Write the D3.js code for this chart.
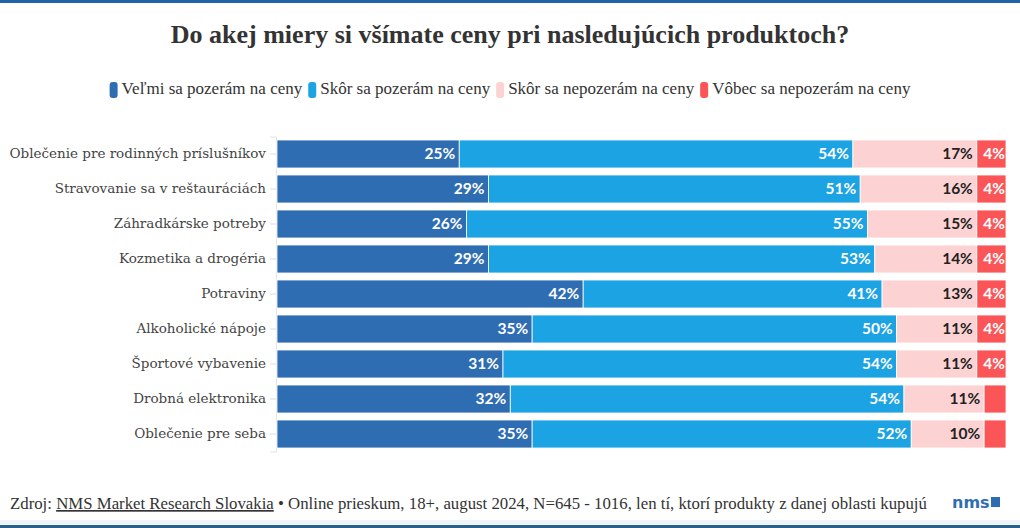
<!DOCTYPE html>
<html><head><meta charset="utf-8">
<script src="https://cdn.jsdelivr.net/npm/d3@7/dist/d3.min.js"></script>
<style>
html,body{margin:0;padding:0;background:#fff;}
svg{display:block;}
</style></head>
<body>
<svg id="c" width="1020" height="528"></svg>
<script>
const categories = ["Oblečenie pre rodinných príslušníkov","Stravovanie sa v reštauráciách","Záhradkárske potreby","Kozmetika a drogéria","Potraviny","Alkoholické nápoje","Športové vybavenie","Drobná elektronika","Oblečenie pre seba"];
const seriesNames = ["Veľmi sa pozerám na ceny","Skôr sa pozerám na ceny","Skôr sa nepozerám na ceny","Vôbec sa nepozerám na ceny"];
const veryMuch = [25,29,26,29,42,35,31,32,35];
const rather = [54,51,55,53,41,50,54,54,52];
const ratherNot = [17,16,15,14,13,11,11,11,10];
const notAtAll = [4,4,4,4,4,4,4,3,3];
const colors = ["#2f6db3","#1ba3e3","#fdd2d3","#fb5558"];
const labelColors = ["#fff","#fff","#222","#fff"];
const title = "Do akej miery si všímate ceny pri nasledujúcich produktoch?";

const svg = d3.select("#c");
const W = 1020, H = 528;
svg.append("rect").attr("x",0).attr("y",0).attr("width",W).attr("height",3).attr("fill","#2563a8");

svg.append("text").attr("x",510).attr("y",43).attr("text-anchor","middle")
  .attr("font-family","Liberation Serif").attr("font-weight","bold").attr("font-size",26)
  .attr("fill","#333").text(title);

// legend
const lg = svg.append("g");
let lx = 0;
seriesNames.forEach((s,i)=>{
  const g = lg.append("g").attr("transform",`translate(${lx},0)`);
  g.append("rect").attr("x",0).attr("y",-12).attr("width",8).attr("height",16).attr("rx",3).attr("fill",colors[i]);
  const t = g.append("text").attr("x",12).attr("y",0).attr("font-family","Liberation Serif")
    .attr("font-size",17).attr("fill","#333").text(s);
  const w = t.node().getComputedTextLength();
  lx += 12 + w + 6;
});
const lw = lx - 6;
lg.attr("transform",`translate(${(W-lw)/2},94)`);

const x = d3.scaleLinear().domain([0,100]).range([277,1006]);
const y = d3.scaleBand().domain(categories).range([136.5,451.5]).paddingInner(0.2).paddingOuter(0.1);

const data = categories.map((c,i)=>({cat:c, v:[veryMuch[i],rather[i],ratherNot[i],notAtAll[i]]}));
const stack = d3.stack().keys([0,1,2,3]).value((d,k)=>d.v[k]);
const series = stack(data);

// axis
const yAxis = d3.axisLeft(y).tickSize(6).tickPadding(4);
const ax = svg.append("g").attr("transform","translate(276,0)").call(yAxis);
ax.select(".domain").attr("stroke","#e4e4e4");
ax.selectAll(".tick line").attr("stroke","#ddd");
ax.selectAll(".tick text").attr("font-family","DejaVu Serif").attr("font-size",13.5).attr("fill","#444");

const gs = svg.append("g").selectAll("g").data(series).join("g").attr("fill",(d,i)=>colors[i]);
gs.selectAll("rect").data(d=>d).join("rect")
  .attr("x",d=>x(d[0])).attr("y",d=>y(d.data.cat))
  .attr("width",d=>x(d[1])-x(d[0])).attr("height",y.bandwidth())
  .attr("stroke","#fff").attr("stroke-width",0.8);

series.forEach((s,k)=>{
  svg.append("g").selectAll("text").data(s.filter(d=>d.data.v[k]>=4)).join("text")
    .attr("x",d=>x(d[1])-(k===3?1:4)).attr("y",d=>y(d.data.cat)+y.bandwidth()/2+5)
    .attr("text-anchor","end").attr("font-family","Lato").attr("font-weight","bold")
    .attr("font-size",15.5).attr("fill",labelColors[k])
    .text(d=>d.data.v[k]+"%");
});

// footer
const ft = svg.append("text").attr("x",10).attr("y",509).attr("font-family","Liberation Serif")
  .attr("font-size",16.8).attr("fill","#333");
ft.append("tspan").text("Zdroj: ");
ft.append("tspan").attr("text-decoration","underline").text("NMS Market Research Slovakia");
ft.append("tspan").text(" • Online prieskum, 18+, august 2024, N=645 - 1016, len tí, ktorí produkty z danej oblasti kupujú");

svg.append("text").attr("x",952).attr("y",508).attr("font-family","DejaVu Sans").attr("font-weight","bold")
  .attr("font-size",16).attr("fill","#2f6db3").text("nms");
svg.append("rect").attr("x",991).attr("y",497).attr("width",9).attr("height",10).attr("fill","#2f6db3");

svg.append("rect").attr("x",0).attr("y",520).attr("width",W).attr("height",5).attr("fill","#eef5f8");
svg.append("rect").attr("x",0).attr("y",525).attr("width",W).attr("height",3).attr("fill","#2c5f8a");
</script>
</body></html>
